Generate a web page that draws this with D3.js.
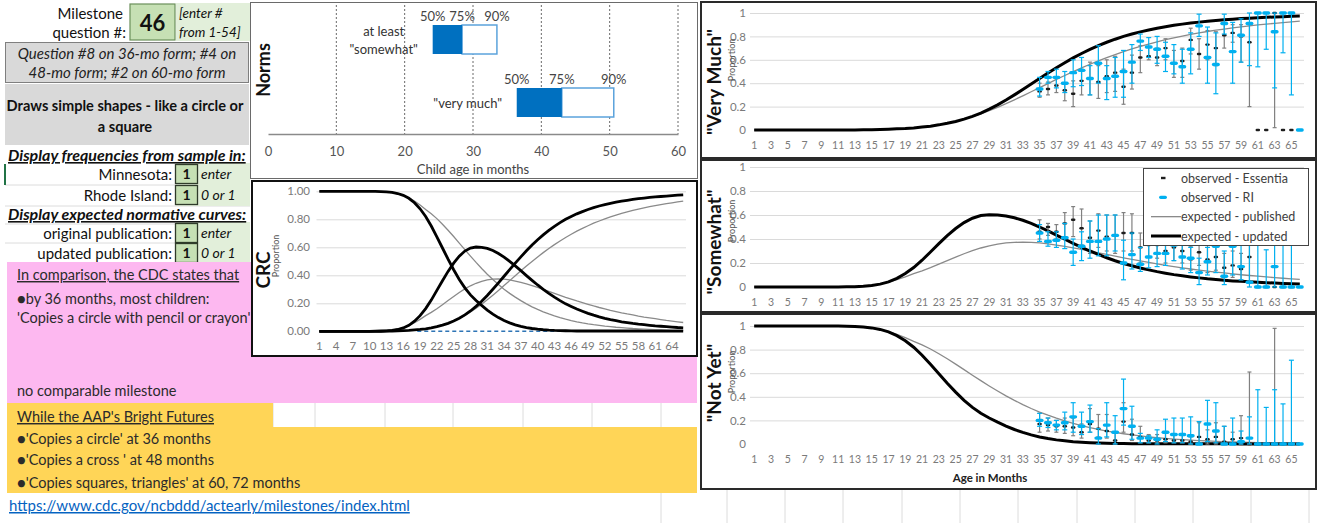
<!DOCTYPE html>
<html>
<head>
<meta charset="utf-8">
<script src="https://cdn.jsdelivr.net/npm/d3@7"></script>
<style>
body { margin: 0; background: #fff; }
svg { display: block; font-family: Lato, "Open Sans", sans-serif; }
</style>
</head>
<body>
<div id="sheet"></div>
<script>
// ---- data ----
const months = d3.range(1, 67);
const obsMonths = d3.range(35, 67);

// expected curves, one value per month 1..66
const vmUpdated = [0,0,0,0,0,0,0,0,0,0,
  0,0,0.001,0.002,0.003,0.005,0.007,0.01,0.013,0.018,
  0.025,0.033,0.044,0.057,0.073,0.093,0.117,0.145,0.178,0.215,
  0.256,0.30,0.346,0.393,0.44,0.487,0.532,0.575,0.616,0.654,
  0.689,0.721,0.75,0.776,0.80,0.82,0.839,0.855,0.87,0.883,
  0.895,0.905,0.914,0.922,0.93,0.936,0.942,0.947,0.952,0.956,
  0.96,0.963,0.966,0.969,0.972,0.974];
const swUpdated = [0,0,0,0,0,0,0,0,0,0,
  0.001,0.002,0.003,0.006,0.013,0.024,0.043,0.072,0.112,0.162,
  0.223,0.292,0.361,0.428,0.487,0.537,0.573,0.595,0.602,0.60,
  0.592,0.577,0.556,0.53,0.50,0.467,0.433,0.398,0.364,0.331,
  0.30,0.271,0.244,0.219,0.196,0.177,0.159,0.143,0.128,0.115,
  0.103,0.093,0.084,0.076,0.068,0.062,0.056,0.051,0.047,0.043,
  0.039,0.036,0.033,0.03,0.027,0.025];
const nyUpdated = [1,1,1,1,1,1,1,1,1,1,
  0.999,0.998,0.996,0.992,0.984,0.971,0.95,0.918,0.875,0.82,
  0.752,0.675,0.595,0.515,0.44,0.37,0.31,0.26,0.22,0.185,
  0.152,0.123,0.098,0.077,0.06,0.046,0.035,0.027,0.02,0.015,
  0.011,0.008,0.006,0.005,0.004,0.003,0.002,0.002,0.002,0.002,
  0.002,0.002,0.002,0.002,0.002,0.002,0.002,0.002,0.001,0.001,
  0.001,0.001,0.001,0.001,0.001,0.001];
const vmPublished = [0,0,0,0,0,0,0,0,0,0,
  0,0,0.001,0.002,0.003,0.004,0.006,0.009,0.013,0.018,
  0.025,0.034,0.045,0.058,0.074,0.093,0.114,0.138,0.165,0.194,
  0.225,0.258,0.292,0.327,0.362,0.397,0.432,0.466,0.499,0.531,
  0.562,0.591,0.619,0.645,0.67,0.693,0.715,0.735,0.754,0.772,
  0.788,0.803,0.817,0.83,0.842,0.853,0.863,0.873,0.882,0.89,
  0.898,0.905,0.912,0.918,0.924,0.93];
const swPublished = [0,0,0,0,0,0,0,0,0,0,
  0.001,0.002,0.004,0.008,0.015,0.026,0.041,0.061,0.085,0.112,
  0.135,0.161,0.19,0.22,0.249,0.277,0.303,0.325,0.343,0.357,
  0.367,0.372,0.374,0.372,0.367,0.359,0.349,0.338,0.326,0.313,
  0.299,0.285,0.271,0.257,0.243,0.23,0.217,0.205,0.193,0.181,
  0.17,0.16,0.15,0.141,0.132,0.124,0.117,0.109,0.102,0.096,
  0.09,0.084,0.078,0.073,0.068,0.063];
const nyPublished = [1,1,1,1,1,1,1,1,1,1,
  0.999,0.998,0.995,0.99,0.982,0.97,0.953,0.93,0.902,0.87,
  0.84,0.805,0.765,0.722,0.677,0.63,0.583,0.537,0.492,0.449,
  0.408,0.37,0.334,0.301,0.271,0.244,0.219,0.196,0.175,0.156,
  0.139,0.124,0.11,0.098,0.087,0.077,0.068,0.06,0.053,0.047,
  0.042,0.037,0.033,0.029,0.026,0.023,0.02,0.018,0.016,0.014,
  0.012,0.011,0.01,0.009,0.008,0.007];

// observed proportions, months 35..66: [value, low, high]
const essVeryMuch = [[0.33,0.28,0.40],[0.35,0.30,0.41],[0.38,0.32,0.44],[0.34,0.25,0.40],[0.31,0.20,0.42],
  [0.42,0.30,0.52],[0.44,0.30,0.58],[0.41,0.27,0.55],[0.46,0.32,0.60],[0.49,0.33,0.63],
  [0.37,0.22,0.52],[0.49,0.35,0.64],[0.62,0.49,0.72],[0.63,0.60,0.71],[0.62,0.55,0.70],
  [0.70,0.60,0.78],[0.57,0.45,0.68],[0.59,0.45,0.70],[0.77,0.65,0.87],[0.65,0.52,0.78],
  [0.73,0.60,0.85],[0.70,0.55,0.84],[0.81,0.70,0.92],[0.83,0.75,0.90],[0.80,0.58,0.90],
  [0.75,0.20,0.90],[0,0,0],[0,0,0],[1,0.02,1],[0,0,0],[0,0,0],null];
const riVeryMuch = [[0.35,0.29,0.45],[0.45,0.40,0.50],[0.45,0.36,0.52],[0.40,0.32,0.50],[0.49,0.37,0.60],
  [0.51,0.38,0.62],[0.44,0.30,0.55],[0.57,0.40,0.72],[0.44,0.26,0.55],[0.46,0.28,0.62],
  [0.50,0.28,0.68],[0.58,0.40,0.73],[0.76,0.68,0.82],[0.71,0.62,0.79],[0.69,0.57,0.80],
  [0.63,0.50,0.75],[0.57,0.48,0.73],[0.54,0.40,0.69],[0.69,0.48,0.83],[0.89,0.80,0.99],
  [0.62,0.40,0.88],[0.56,0.31,0.83],[0.91,0.82,0.99],[0.67,0.40,0.92],[0.81,0.58,0.95],
  [0.91,0.55,1],[1,0.54,1],[1,0.69,1],[0.84,0.36,1],[1,0.66,1],[1,0.30,1],[0,0,0]];
const essSomewhat = [[0.46,0.40,0.56],[0.50,0.43,0.53],[0.46,0.40,0.52],[0.53,0.42,0.62],[0.56,0.42,0.67],
  [0.49,0.35,0.65],[0.41,0.28,0.55],[0.47,0.33,0.61],[0.42,0.30,0.60],[0.43,0.28,0.60],
  [0.45,0.30,0.62],[0.45,0.30,0.61],[0.33,0.20,0.45],[0.35,0.25,0.45],[0.35,0.24,0.46],
  [0.30,0.20,0.42],[0.33,0.22,0.45],[0.30,0.20,0.42],[0.23,0.14,0.34],[0.29,0.18,0.40],
  [0.23,0.12,0.35],[0.25,0.14,0.38],[0.16,0.08,0.28],[0.18,0.08,0.30],[0.15,0.06,0.28],
  [0.25,0.05,0.65],[0,0,0],[0,0,0],[0,0,0],[0,0,0],[0,0,0],null];
const riSomewhat = [[0.45,0.38,0.52],[0.38,0.34,0.46],[0.39,0.33,0.46],[0.41,0.32,0.53],[0.29,0.18,0.40],
  [0.34,0.22,0.46],[0.38,0.24,0.55],[0.38,0.26,0.60],[0.40,0.26,0.60],[0.43,0.30,0.60],
  [0.20,0.06,0.39],[0.27,0.15,0.45],[0.19,0.13,0.33],[0.25,0.16,0.37],[0.28,0.17,0.40],
  [0.28,0.18,0.38],[0.35,0.22,0.42],[0.25,0.15,0.36],[0.24,0.12,0.33],[0.12,0.02,0.24],
  [0.21,0.10,0.33],[0.34,0.12,0.42],[0.09,0.02,0.30],[0.34,0.10,0.42],[0.17,0.06,0.36],
  [0.04,0,0.45],[0,0,0.55],[0,0,0.31],[0.17,0,0.46],[0,0,0.50],[0,0,0.36],[0,0,0]];
const essNotYet = [[0.17,0.10,0.26],[0.16,0.11,0.22],[0.15,0.10,0.20],[0.15,0.09,0.22],[0.14,0.07,0.22],
  [0.10,0.05,0.17],[0.17,0.10,0.30],[0.13,0.06,0.25],[0.11,0.05,0.25],[0.03,0,0.10],
  [0.19,0.10,0.35],[0.08,0.03,0.21],[0.06,0.01,0.15],[0.03,0.01,0.08],[0.03,0.01,0.08],
  [0.04,0.01,0.10],[0.03,0.01,0.08],[0.03,0.01,0.08],[0.02,0,0.06],[0.06,0,0.18],
  [0.04,0,0.12],[0.06,0,0.18],[0.02,0,0.15],[0.04,0,0.10],[0.05,0,0.24],
  [0,0,0.61],[0,0,0],[0,0,0],[0,0,0.98],[0,0,0],[0,0,0],null];
const riNotYet = [[0.20,0.15,0.26],[0.18,0.14,0.22],[0.16,0.12,0.20],[0.18,0.12,0.27],[0.23,0.10,0.35],
  [0.15,0.08,0.27],[0.19,0.10,0.33],[0.05,0,0.13],[0.16,0.06,0.35],[0.10,0,0.24],
  [0.30,0.16,0.55],[0.15,0.04,0.32],[0.05,0.01,0.09],[0.05,0.01,0.07],[0.04,0,0.12],
  [0.10,0.02,0.21],[0.08,0.01,0.22],[0.08,0.01,0.22],[0.07,0,0.23],[0,0,0.19],
  [0.17,0.02,0.37],[0.11,0.01,0.35],[0,0,0.15],[0,0,0.22],[0.02,0,0.11],
  [0.05,0,0.23],[0,0,0.46],[0,0,0.31],[0,0,0.46],[0,0,0.34],[0,0,0.71],[0,0,0]];

// norms: age (months) at which 50/75/90% of children reach the level
const normsLabels = [["at least", "\"somewhat\""], ["\"very much\""]];
const norms50 = [24.1, 36.4];
const norms75 = [28.4, 43.0];
const norms90 = [33.5, 50.6];
const normsTicks = [0, 10, 20, 30, 40, 50, 60];

const legendLabels = ["observed - Essentia", "observed - RI", "expected - published", "expected - updated"];

// ---- drawing ----
const FONT = 'Lato, "Open Sans", sans-serif';
const BLUE = "#00b0f0", GRAY_LINE = "#8a8a8a", TICK = "#7a7a7a";
const svg = d3.select("#sheet").append("svg").attr("width", 1321).attr("height", 523);

function txt(g, x, y, s, o) {
  o = o || {};
  const t = g.append("text").attr("x", x).attr("y", y).text(s)
    .style("font-size", (o.size || 14) + "px")
    .attr("fill", o.fill || "#111")
    .attr("text-anchor", o.anchor || "start");
  if (o.bold) t.style("font-weight", "bold");
  if (o.italic) t.style("font-style", "italic");
  if (o.underline) t.style("text-decoration", "underline");
  return t;
}

// spreadsheet cell lines in the white areas
const grid = svg.append("g").attr("stroke", "#dcdcdc").attr("stroke-width", 1);
[273, 315, 385, 453, 523, 592, 661].forEach(x => grid.append("line").attr("x1", x).attr("x2", x).attr("y1", 403).attr("y2", 427));
[661].forEach(x => grid.append("line").attr("x1", x).attr("x2", x).attr("y1", 493).attr("y2", 523));
[727, 785, 843, 902, 960, 1018, 1077, 1135, 1193, 1251, 1309].forEach(x => grid.append("line").attr("x1", x).attr("x2", x).attr("y1", 490).attr("y2", 523));
[185, 206, 224, 243].forEach(y => grid.append("line").attr("x1", 5).attr("x2", 250).attr("y1", y).attr("y2", y));

// ---- left panel ----
const left = svg.append("g");
left.append("rect").attr("x", 176).attr("y", 3).attr("width", 74).attr("height", 38).attr("fill", "#e2efda");
left.append("rect").attr("x", 176).attr("y", 163).attr("width", 74).attr("height", 43).attr("fill", "#e2efda");
left.append("rect").attr("x", 176).attr("y", 222).attr("width", 74).attr("height", 41).attr("fill", "#e2efda");
txt(left, 123, 19, "Milestone", {size: 15, anchor: "end"});
txt(left, 126, 38, "question #:", {size: 15, anchor: "end"});
left.append("rect").attr("x", 130).attr("y", 4).attr("width", 45).attr("height", 36)
  .attr("fill", "#c6e0b4").attr("stroke", "#6b8f5a").attr("stroke-width", 1.2);
txt(left, 152.5, 31, "46", {size: 22, bold: true, anchor: "middle"});
txt(left, 179, 18, "[enter #", {size: 13.5, italic: true});
txt(left, 179, 37, "from 1-54]", {size: 13.5, italic: true});

left.append("rect").attr("x", 5.5).attr("y", 42.5).attr("width", 243).attr("height", 40)
  .attr("fill", "#d9d9d9").attr("stroke", "#7f7f7f");
txt(left, 127, 59, "Question #8 on 36-mo form; #4 on", {size: 15, italic: true, anchor: "middle", fill: "#222"});
txt(left, 127, 78, "48-mo form; #2 on 60-mo form", {size: 15, italic: true, anchor: "middle", fill: "#222"});
left.append("rect").attr("x", 5).attr("y", 84).attr("width", 244).attr("height", 61).attr("fill", "#d9d9d9");
txt(left, 125, 111, "Draws simple shapes - like a circle or", {size: 14.6, bold: true, anchor: "middle"});
txt(left, 125, 132, "a square", {size: 14.6, bold: true, anchor: "middle"});

txt(left, 8, 161, "Display frequencies from sample in:", {size: 16, bold: true, italic: true, underline: true});
txt(left, 8, 220, "Display expected normative curves:", {size: 16, bold: true, italic: true, underline: true});
const inputs = [["Minnesota:", "enter", 164], ["Rhode Island:", "0 or 1", 185], ["original publication:", "enter", 223], ["updated publication:", "0 or 1", 243]];
inputs.forEach(r => {
  txt(left, 172, r[2] + 16, r[0], {size: 15, anchor: "end"});
  left.append("rect").attr("x", 175.5).attr("y", r[2] + 0.5).attr("width", 22).attr("height", 19)
    .attr("fill", "#c6e0b4").attr("stroke", "#2f3b2a").attr("stroke-width", 1.3);
  txt(left, 186.5, r[2] + 15, "1", {size: 14, bold: true, anchor: "middle"});
  txt(left, 201, r[2] + 15, r[1], {size: 14, italic: true});
});
left.append("line").attr("x1", 5).attr("x2", 5).attr("y1", 164).attr("y2", 185).attr("stroke", "#217346").attr("stroke-width", 2);

// pink and orange blocks
left.append("rect").attr("x", 7).attr("y", 262).attr("width", 690).attr("height", 141).attr("fill", "#fdb8f0");
left.append("rect").attr("x", 7).attr("y", 403).attr("width", 266).attr("height", 24).attr("fill", "#ffd557");
left.append("rect").attr("x", 7).attr("y", 427).attr("width", 690).attr("height", 66).attr("fill", "#ffd557");
const pink = "#2b2b2b";
txt(left, 17, 280, "In comparison, the CDC states that", {size: 14.5, underline: true, fill: pink});
txt(left, 17, 304, "\u25CFby 36 months, most children:", {size: 14.5, fill: pink});
txt(left, 17, 323, "'Copies a circle with pencil or crayon'", {size: 14.5, fill: pink});
txt(left, 17, 396, "no comparable milestone", {size: 14.5, fill: pink});
txt(left, 17, 422, "While the AAP's Bright Futures", {size: 14.5, underline: true, fill: pink});
txt(left, 17, 444, "\u25CF'Copies a circle' at 36 months", {size: 14.5, fill: pink});
txt(left, 17, 465, "\u25CF'Copies a cross ' at 48 months", {size: 14.5, fill: pink});
txt(left, 17, 488, "\u25CF'Copies squares, triangles' at 60, 72 months", {size: 14.5, fill: pink});
txt(left, 9, 511, "https://www.cdc.gov/ncbddd/actearly/milestones/index.html", {size: 15, underline: true, fill: "#0563c1"});

// ---- Norms chart ----
const norms = svg.append("g");
norms.append("rect").attr("x", 250.5).attr("y", 2.5).attr("width", 447).attr("height", 176)
  .attr("fill", "#fff").attr("stroke", "#6a6a6a");
const nx = d3.scaleLinear().domain([0, 60]).range([268, 678]);
const ny = d3.scalePoint().domain(d3.range(normsLabels.length)).range([39.5, 102.5]);
const barH = 29;
norms.append("g").selectAll("line").data(normsTicks.slice(1)).join("line")
  .attr("x1", d => nx(d)).attr("x2", d => nx(d)).attr("y1", 5).attr("y2", 134)
  .attr("stroke", "#6a6a6a").attr("stroke-dasharray", "2,2");
const nAxis = norms.append("g").attr("transform", "translate(0,134)")
  .call(d3.axisBottom(nx).tickValues(normsTicks).tickSize(0).tickPadding(13));
nAxis.select(".domain").attr("stroke", "#8a8a8a").attr("stroke-width", 1.5);
nAxis.selectAll("text").style("font-family", FONT).style("font-size", "13px").attr("fill", "#555");
txt(norms, 473, 174, "Child age in months", {size: 13, anchor: "middle", fill: "#444"});
txt(norms, 0, 0, "Norms", {size: 18, bold: true, anchor: "middle"}).attr("transform", "translate(270,70) rotate(-90)");
const nRows = norms.append("g").selectAll("g").data(normsLabels.map((l, i) => i)).join("g");
nRows.append("rect").attr("x", i => nx(norms75[i])).attr("y", i => ny(i) - barH / 2)
  .attr("width", i => nx(norms90[i]) - nx(norms75[i])).attr("height", barH)
  .attr("fill", "#fff").attr("stroke", "#5ba3dc").attr("stroke-width", 1.5);
nRows.append("rect").attr("x", i => nx(norms50[i])).attr("y", i => ny(i) - barH / 2)
  .attr("width", i => nx(norms75[i]) - nx(norms50[i])).attr("height", barH).attr("fill", "#0070c0");
nRows.each(function (i) {
  const g = d3.select(this);
  [["50%", norms50[i]], ["75%", norms75[i]], ["90%", norms90[i]]].forEach(p =>
    txt(g, nx(p[1]), ny(i) - barH / 2 - 4, p[0], {size: 13, anchor: "middle", fill: "#444"}));
  const lines = normsLabels[i];
  lines.forEach((s, k) =>
    txt(g, nx(norms50[i]) - 49, ny(i) + 5 + (k - (lines.length - 1) / 2) * 18, s, {size: 13, anchor: "middle", fill: "#333"}));
});

// ---- CRC chart ----
const crc = svg.append("g");
crc.append("rect").attr("x", 252).attr("y", 181).attr("width", 445).attr("height", 175)
  .attr("fill", "#fff").attr("stroke", "#111").attr("stroke-width", 2);
const cx = d3.scaleBand().domain(months).range([316.5, 686]);
const cy = d3.scaleLinear().domain([0, 1]).range([331.3, 191.3]);
const cGrid = crc.append("g").attr("transform", "translate(316.5,0)")
  .call(d3.axisLeft(cy).tickValues([0.2, 0.4, 0.6, 0.8, 1]).tickSize(-369.5).tickFormat(""));
cGrid.select(".domain").remove();
cGrid.selectAll("line").attr("stroke", "#dadada");
const cyAx = crc.append("g").attr("transform", "translate(316,0)")
  .call(d3.axisLeft(cy).tickValues([0, 0.2, 0.4, 0.6, 0.8, 1]).tickSize(0).tickPadding(6).tickFormat(d3.format(".2f")));
cyAx.select(".domain").remove();
cyAx.selectAll("text").style("font-family", FONT).style("font-size", "11.5px").attr("fill", TICK);
const cxAx = crc.append("g").attr("transform", "translate(0,331)")
  .call(d3.axisBottom(cx).tickValues(months.filter(m => (m - 1) % 3 === 0)).tickSize(0).tickPadding(11));
cxAx.select(".domain").remove();
cxAx.selectAll("text").style("font-family", FONT).style("font-size", "11.5px").attr("fill", TICK);
txt(crc, 0, 0, "CRC", {size: 19, bold: true, anchor: "middle"}).attr("transform", "translate(270,270) rotate(-90)");
txt(crc, 0, 0, "Proportion", {size: 9, anchor: "middle", fill: "#555"}).attr("transform", "translate(279,256) rotate(-90)");
const cLine = d3.line().x((d, i) => cx(months[i]) + cx.bandwidth() / 2).y(d => cy(d));
crc.append("line").attr("x1", cx(19)).attr("x2", cx(47)).attr("y1", cy(0)).attr("y2", cy(0))
  .attr("stroke", "#2e75b6").attr("stroke-width", 1.5).attr("stroke-dasharray", "4,3");
[nyPublished, swPublished, vmPublished].forEach(s =>
  crc.append("path").attr("d", cLine(s)).attr("fill", "none").attr("stroke", GRAY_LINE).attr("stroke-width", 1.3));
[nyUpdated, swUpdated, vmUpdated].forEach(s =>
  crc.append("path").attr("d", cLine(s)).attr("fill", "none").attr("stroke", "#000").attr("stroke-width", 2.8));

// ---- right panels ----
const rx = d3.scaleBand().domain(months).range([750, 1304]);
const panels = [
  {title: "\"Very Much\"", top: 13, zero: 130, frame: [2, 158], titleY: 82, propY: 60, pub: vmPublished, upd: vmUpdated, ess: essVeryMuch, ri: riVeryMuch},
  {title: "\"Somewhat\"", top: 167, zero: 287, frame: [160, 312], titleY: 242, propY: 221, pub: swPublished, upd: swUpdated, ess: essSomewhat, ri: riSomewhat, legend: true},
  {title: "\"Not Yet\"", top: 326, zero: 444, frame: [314, 489], titleY: 383, propY: 372, pub: nyPublished, upd: nyUpdated, ess: essNotYet, ri: riNotYet, xTitle: "Age in Months"}
];

function drawObs(g, y, obs, barColor, markColor, capW, mW, mH) {
  const pts = obs.map((d, i) => ({m: obsMonths[i], d: d})).filter(o => o.d);
  const X = o => rx(o.m) + rx.bandwidth() / 2;
  const withErr = pts.filter(o => o.d[2] > o.d[1]);
  const e = g.append("g").attr("stroke", barColor).attr("stroke-width", 1.2);
  e.selectAll("line.v").data(withErr).join("line").attr("class", "v")
    .attr("x1", X).attr("x2", X).attr("y1", o => y(o.d[1])).attr("y2", o => y(o.d[2]));
  e.selectAll("line.lo").data(withErr).join("line").attr("class", "lo")
    .attr("x1", o => X(o) - capW / 2).attr("x2", o => X(o) + capW / 2).attr("y1", o => y(o.d[1])).attr("y2", o => y(o.d[1]));
  e.selectAll("line.hi").data(withErr).join("line").attr("class", "hi")
    .attr("x1", o => X(o) - capW / 2).attr("x2", o => X(o) + capW / 2).attr("y1", o => y(o.d[2])).attr("y2", o => y(o.d[2]));
  g.append("g").selectAll("rect").data(pts).join("rect")
    .attr("x", o => X(o) - mW / 2).attr("y", o => y(o.d[0]) - mH / 2)
    .attr("width", mW).attr("height", mH).attr("rx", mH / 2).attr("fill", markColor);
}

panels.forEach(p => {
  const g = svg.append("g");
  g.append("rect").attr("x", 701).attr("y", p.frame[0]).attr("width", 615).attr("height", p.frame[1] - p.frame[0])
    .attr("fill", "#fff").attr("stroke", "#2a2a2a").attr("stroke-width", 2);
  const y = d3.scaleLinear().domain([0, 1]).range([p.zero, p.top]);
  const gr = g.append("g").attr("transform", "translate(750,0)")
    .call(d3.axisLeft(y).tickValues([0.2, 0.4, 0.6, 0.8, 1]).tickSize(-554).tickFormat(""));
  gr.select(".domain").remove();
  gr.selectAll("line").attr("stroke", "#dadada");
  const ya = g.append("g").attr("transform", "translate(748,0)")
    .call(d3.axisLeft(y).tickValues([0, 0.2, 0.4, 0.6, 0.8, 1]).tickSize(0).tickPadding(2).tickFormat(d3.format("~g")));
  ya.select(".domain").remove();
  ya.selectAll("text").style("font-family", FONT).style("font-size", "11.5px").attr("fill", TICK);
  const xa = g.append("g").attr("transform", "translate(0," + p.zero + ")")
    .call(d3.axisBottom(rx).tickValues(months.filter(m => m % 2 === 1)).tickSize(0).tickPadding(12));
  xa.select(".domain").remove();
  xa.selectAll("text").style("font-family", FONT).style("font-size", "10.5px").attr("fill", TICK);
  txt(g, 0, 0, p.title, {size: 19, bold: true, anchor: "middle"}).attr("transform", "translate(721," + p.titleY + ") rotate(-90)");
  txt(g, 0, 0, "Proportion", {size: 9, anchor: "middle", fill: "#555"}).attr("transform", "translate(735," + p.propY + ") rotate(-90)");
  if (p.xTitle) txt(g, 990, 482, p.xTitle, {size: 11.5, bold: true, anchor: "middle", fill: "#222"});

  const line = d3.line().x((d, i) => rx(months[i]) + rx.bandwidth() / 2).y(d => y(d));
  g.append("path").attr("d", line(p.pub)).attr("fill", "none").attr("stroke", GRAY_LINE).attr("stroke-width", 1.3);
  g.append("path").attr("d", line(p.upd)).attr("fill", "none").attr("stroke", "#000").attr("stroke-width", 3);
  drawObs(g, y, p.ess, "#808080", "#1e1e1e", 4, 4.5, 2.4);
  drawObs(g, y, p.ri, BLUE, BLUE, 5, 8, 3.4);

  if (p.legend) {
    const lg = g.append("g").attr("transform", "translate(1143,168)");
    lg.append("rect").attr("x", 0.5).attr("y", 0.5).attr("width", 165).attr("height", 77)
      .attr("fill", "#fff").attr("stroke", "#444");
    const ly = d3.scalePoint().domain(legendLabels).range([10, 68]);
    legendLabels.forEach((s, i) => {
      const yy = ly(s);
      if (i === 0) lg.append("rect").attr("x", 18).attr("y", yy - 1.2).attr("width", 4.5).attr("height", 2.4).attr("fill", "#1e1e1e");
      if (i === 1) lg.append("rect").attr("x", 16).attr("y", yy - 1.7).attr("width", 8).attr("height", 3.4).attr("rx", 1.7).attr("fill", BLUE);
      if (i === 2) lg.append("line").attr("x1", 8).attr("x2", 38).attr("y1", yy).attr("y2", yy).attr("stroke", GRAY_LINE).attr("stroke-width", 1.3);
      if (i === 3) lg.append("line").attr("x1", 8).attr("x2", 38).attr("y1", yy).attr("y2", yy).attr("stroke", "#000").attr("stroke-width", 3);
      txt(lg, 38, yy + 4.5, s, {size: 12.5, fill: "#404040"});
    });
  }
});
</script>
</body>
</html>
